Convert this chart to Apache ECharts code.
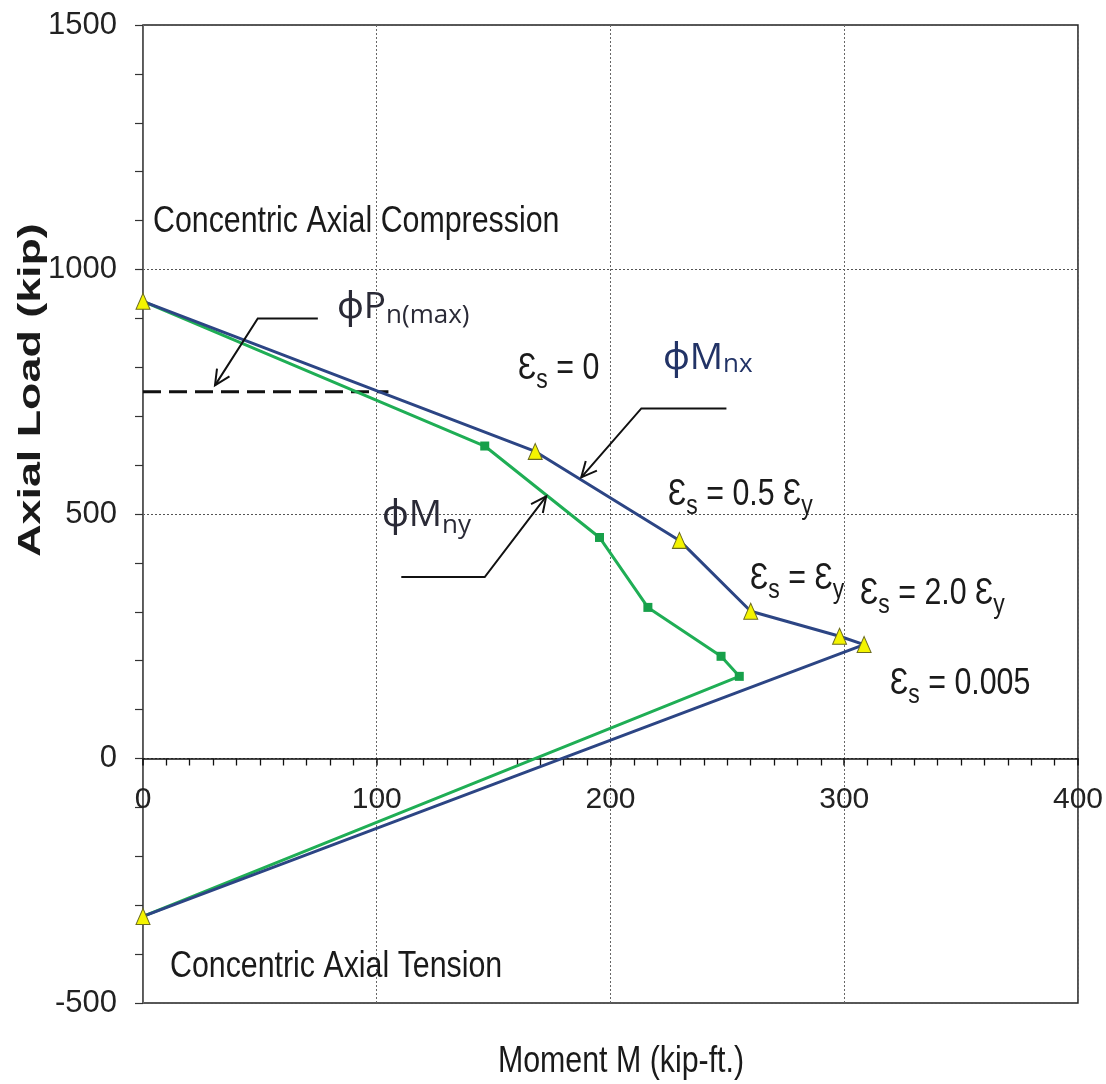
<!DOCTYPE html>
<html lang="en">
<head>
    <meta charset="UTF-8">
    <title>Interaction diagram</title>
    <script src="https://cdn.jsdelivr.net/npm/echarts@6/dist/echarts.min.js"></script>
    <style>
        html, body {
            margin: 0;
            padding: 0;
            background: #fff;
        }
        #chart {
            width: 1106px;
            height: 1084px;
        }
    </style>
</head>
<body>
<div id="chart"></div>
<script>
    // axis ticks
    var xTicks = [0, 100, 200, 300, 400];
    var yTicks = [-500, 0, 500, 1000, 1500];

    // phi Mnx curve: moment (kip-ft) / axial load (kip)
    var mnxMoment = [0, 167.8, 229.5, 260, 298, 308.5, 0];
    var mnxLoad = [935, 628, 446, 301, 250, 233, -323];

    // phi Mny curve
    var mnyMoment = [0, 146.2, 195.3, 216, 247.3, 255.1, 0];
    var mnyLoad = [935, 639, 452, 309, 209, 168, -323];

    // phi Pn(max) cut-off
    var pnMaxMoment = [0, 105];
    var pnMaxLoad = [750, 750];

    var SANS = '"Liberation Sans", Arial, sans-serif';
    var CALI = '"Open Sans", "Noto Sans", sans-serif';
    var NARROW = 0.82;   // no Arial Narrow here, squeeze Liberation Sans instead
    var EPS = '\u0190';
    var PHI = '\u03D5';

    function pairs(xs, ys) {
        return xs.map(function (x, i) {
            return [x, ys[i]];
        });
    }

    var nyData = pairs(mnyMoment, mnyLoad).map(function (p, i, a) {
        // end points sit under the triangles, no square there
        return (i === 0 || i === a.length - 1) ? {value: p, symbol: 'none'} : p;
    });

    var chart = echarts.init(document.getElementById('chart'));

    var gridTop = 25, gridBottom = 81, gridH = 1084 - gridTop - gridBottom;
    // x axis sits on P = 0
    var zeroOffset = -gridH * (0 - yTicks[0]) / (yTicks[yTicks.length - 1] - yTicks[0]);

    chart.setOption({
        animation: false,
        grid: {
            left: 143, right: 27, top: gridTop, bottom: gridBottom,
            show: true, borderColor: '#222', borderWidth: 1.5
        },
        xAxis: {
            type: 'value',
            min: xTicks[0],
            max: xTicks[xTicks.length - 1],
            interval: xTicks[1] - xTicks[0],
            offset: zeroOffset,
            axisLine: {onZero: false, lineStyle: {color: '#111', width: 1.5}},
            axisTick: {show: true, length: 7, lineStyle: {color: '#111', width: 1.5}},
            minorTick: {show: true, splitNumber: 10, length: 7, lineStyle: {color: '#111', width: 1.3}},
            axisLabel: {fontSize: 30, fontFamily: SANS, color: '#222', margin: 26},
            splitLine: {show: true, lineStyle: {color: '#666', type: [2, 2], width: 1}}
        },
        yAxis: {
            type: 'value',
            min: yTicks[0],
            max: yTicks[yTicks.length - 1],
            interval: yTicks[1] - yTicks[0],
            axisLine: {show: true, lineStyle: {color: '#666', width: 1}},
            axisTick: {show: true, length: 8, lineStyle: {color: '#333', width: 1.2}},
            minorTick: {show: true, splitNumber: 5, length: 8, lineStyle: {color: '#333', width: 1.2}},
            axisLabel: {
                fontSize: 31, fontFamily: SANS, color: '#222', margin: 26,
                formatter: function (v) {
                    return String(v);
                }
            },
            splitLine: {show: true, lineStyle: {color: '#555', type: [2, 2], width: 1}}
        },
        series: [
            {
                name: PHI + 'Pn(max)',
                type: 'line',
                data: pairs(pnMaxMoment, pnMaxLoad),
                symbol: 'none',
                lineStyle: {color: '#111', width: 3, type: [18, 8]},
                z: 2
            },
            {
                name: PHI + 'Mny',
                type: 'line',
                data: nyData,
                symbol: 'rect',
                symbolSize: 9,
                lineStyle: {color: '#1fae55', width: 3},
                itemStyle: {color: '#17a04a'},
                z: 3
            },
            {
                name: PHI + 'Mnx',
                type: 'line',
                data: pairs(mnxMoment, mnxLoad),
                symbol: 'triangle',
                symbolSize: [14, 16],
                lineStyle: {color: '#2c4584', width: 3},
                itemStyle: {color: '#f4f400', borderColor: '#6b6b20', borderWidth: 1},
                z: 4
            }
        ]
    });

    // ---- annotations ----
    var ctx = document.createElement('canvas').getContext('2d');

    function run(x, base, pieces, color) {
        var els = [];
        pieces.forEach(function (p) {
            var fam = p.family || SANS;
            var sx = p.family === CALI ? 1 : NARROW;
            var mid = fam === CALI ? 0.388 : 0.35;
            ctx.font = (p.weight || 'normal') + ' ' + p.size + 'px ' + fam;
            var w = ctx.measureText(p.text).width * sx;
            els.push({
                type: 'text',
                x: x,
                y: base + (p.dy || 0) - mid * p.size,
                scaleX: sx,
                style: {
                    text: p.text, fontSize: p.size, fontFamily: fam, fontWeight: p.weight || 'normal',
                    fill: color || '#1a1a1a', align: 'left', verticalAlign: 'middle'
                }
            });
            x += w;
        });
        return els;
    }

    function eps(x, base, rest, tail) {
        var pieces = [{text: EPS, size: 37}, {text: 's', size: 28, dy: 8}, {text: rest, size: 37}];
        if (tail) {
            pieces.push({text: EPS, size: 37}, {text: 'y', size: 28, dy: 8});
        }
        return run(x, base, pieces);
    }

    function phi(x, base, main, sub, dy, color) {
        return run(x, base, [
            {text: PHI + main, size: 37, family: CALI},
            {text: sub, size: 26, family: CALI, dy: dy}
        ], color);
    }

    function leader(pts) {
        var p = pts.map(function (d) {
            return chart.convertToPixel({gridIndex: 0}, d);
        });
        var a = p[p.length - 2], b = p[p.length - 1];
        var ang = Math.atan2(b[1] - a[1], b[0] - a[0]);
        var L = 17, s = 0.45;
        var h1 = [b[0] - L * Math.cos(ang - s), b[1] - L * Math.sin(ang - s)];
        var h2 = [b[0] - L * Math.cos(ang + s), b[1] - L * Math.sin(ang + s)];
        var st = {stroke: '#111', lineWidth: 2, fill: null};
        return [
            {type: 'polyline', shape: {points: p}, style: st, z: 10},
            {type: 'polyline', shape: {points: [h1, b, h2]}, style: st, z: 10}
        ];
    }

    var g = [];
    g = g.concat(run(153, 235, [{text: 'Concentric Axial Compression', size: 37}]));
    g = g.concat(run(170, 980, [{text: 'Concentric Axial Tension', size: 37}]));
    g.push({
        type: 'text', x: 621, y: 1075 - 0.35 * 37, scaleX: NARROW,
        style: {
            text: 'Moment M (kip-ft.)', fontSize: 37, fontFamily: SANS, fill: '#1a1a1a',
            align: 'center', verticalAlign: 'middle'
        }
    });
    g.push({
        type: 'text', x: 31, y: 390, rotation: Math.PI / 2, scaleX: 1.4,
        style: {
            text: 'Axial Load (kip)', fontSize: 32, fontFamily: SANS, fontWeight: 'bold', fill: '#1a1a1a',
            align: 'center', verticalAlign: 'middle'
        }
    });

    g = g.concat(eps(518, 382, ' = 0'));
    g = g.concat(eps(668, 508, ' = 0.5 ', true));
    g = g.concat(eps(750, 592, ' = ', true));
    g = g.concat(eps(860, 607, ' = 2.0 ', true));
    g = g.concat(eps(890, 697, ' = 0.005'));

    g = g.concat(phi(337, 322, 'P', 'n(max)', 4, '#2a2a36'));
    g = g.concat(phi(663, 373, 'M', 'nx', 2, '#223366'));
    g = g.concat(phi(382, 530, 'M', 'ny', 6, '#2a2a36'));

    g = g.concat(leader([[74.8, 900], [49.1, 900], [30.8, 763]]));
    g = g.concat(leader([[249.6, 716], [213.2, 716], [187.5, 575]]));
    g = g.concat(leader([[110.5, 371], [146.2, 371], [172.5, 536]]));

    chart.setOption({graphic: g});
</script>
</body>
</html>
